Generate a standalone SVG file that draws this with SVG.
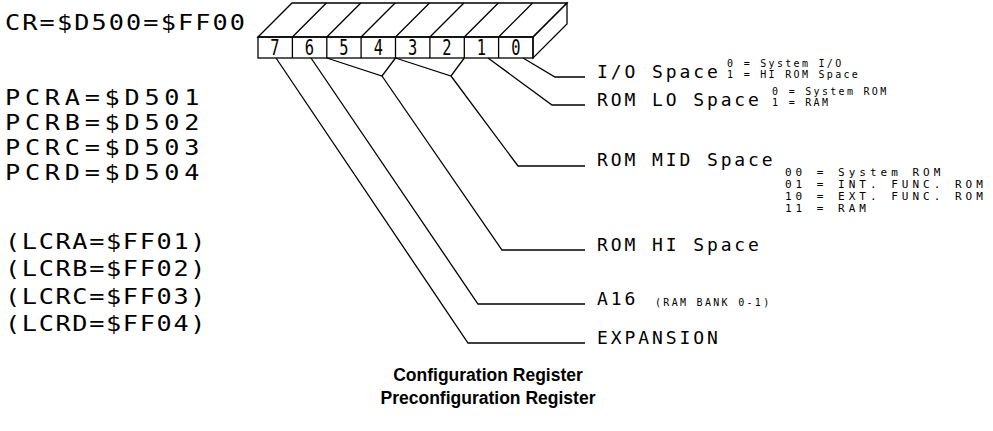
<svg xmlns="http://www.w3.org/2000/svg" width="993" height="431" viewBox="0 0 993 431">
<style>
.t{font-family:"DejaVu Sans Mono","Liberation Mono",monospace;fill:#000}
.big{font-size:21px}
.lbl{font-size:18px;letter-spacing:2.9px}
.sm{font-size:10px;letter-spacing:2.3px}
.blk{font-size:11px;letter-spacing:4px}
.dg{font-size:22px;text-anchor:middle}
.ttl{font-family:"Liberation Sans",Arial,sans-serif;font-weight:bold;font-size:17.5px;text-anchor:middle;fill:#000}
.ln{fill:none;stroke:#000;stroke-width:1.3;stroke-linejoin:miter}
</style>
<rect width="993" height="431" fill="#fff"/>
<g id="addresses">
<text class="t big" transform="translate(5,30) scale(1.2,1)" textLength="200" lengthAdjust="spacing">CR=$D500=$FF00</text>
<text class="t big" transform="translate(5,105) scale(1.2,1)" textLength="162" lengthAdjust="spacing">PCRA=$D501</text>
<text class="t big" transform="translate(5,130) scale(1.2,1)" textLength="162" lengthAdjust="spacing">PCRB=$D502</text>
<text class="t big" transform="translate(5,155) scale(1.2,1)" textLength="162" lengthAdjust="spacing">PCRC=$D503</text>
<text class="t big" transform="translate(5,180) scale(1.2,1)" textLength="162" lengthAdjust="spacing">PCRD=$D504</text>
<text class="t big" transform="translate(5,249) scale(1.2,1)" textLength="167" lengthAdjust="spacing">(LCRA=$FF01)</text>
<text class="t big" transform="translate(5,276) scale(1.2,1)" textLength="167" lengthAdjust="spacing">(LCRB=$FF02)</text>
<text class="t big" transform="translate(5,304) scale(1.2,1)" textLength="167" lengthAdjust="spacing">(LCRC=$FF03)</text>
<text class="t big" transform="translate(5,331) scale(1.2,1)" textLength="167" lengthAdjust="spacing">(LCRD=$FF04)</text>
</g>
<g id="register">
<polygon class="ln" points="258,37 292,3 567,3 533,37"/>
<polygon class="ln" points="533,37 567,3 567,24 533,58"/>
<rect class="ln" x="258" y="37" width="275" height="21"/>
<path class="ln" d="M292.4,37V58M326.8,37V58M361.1,37V58M395.5,37V58M429.9,37V58M464.3,37V58M498.6,37V58M292.4,37L326.4,3M326.8,37L360.8,3M361.1,37L395.1,3M395.5,37L429.5,3M429.9,37L463.9,3M464.3,37L498.3,3M498.6,37L532.6,3"/>
<g class="t dg">
<text transform="translate(275,55) scale(0.7,1)">7</text>
<text transform="translate(309.5,55) scale(0.7,1)">6</text>
<text transform="translate(344,55) scale(0.7,1)">5</text>
<text transform="translate(378.3,55) scale(0.7,1)">4</text>
<text transform="translate(412.7,55) scale(0.7,1)">3</text>
<text transform="translate(447,55) scale(0.7,1)">2</text>
<text transform="translate(481.5,55) scale(0.7,1)">1</text>
<text transform="translate(516,55) scale(0.7,1)">0</text>
</g>
</g>
<g id="connectors">
<polyline class="ln" points="276,58 468,343 585,343"/>
<polyline class="ln" points="311,58 478,304 585,304"/>
<polyline class="ln" points="326.8,58 382,76 395.5,58"/>
<polyline class="ln" points="382,76 502,250 585,250"/>
<polyline class="ln" points="395.5,58 451,76 464.3,58"/>
<polyline class="ln" points="451,76 518,166 585,166"/>
<polyline class="ln" points="488,58 552,105 585,105"/>
<polyline class="ln" points="523,58 555,77 585,77"/>
</g>
<g id="io-space">
<text class="t lbl" x="597" y="78">I/O Space</text>
<text class="t sm" x="727" y="67">0 = System I/O</text>
<text class="t sm" x="727" y="78">1 = HI ROM Space</text>
</g>
<g id="rom-lo">
<text class="t lbl" x="597" y="106">ROM LO Space</text>
<text class="t sm" x="772" y="95">0 = System ROM</text>
<text class="t sm" x="772" y="106">1 = RAM</text>
</g>
<g id="rom-mid">
<text class="t lbl" x="597" y="166">ROM MID Space</text>
<text class="t blk" x="785" y="176">00 = System ROM</text>
<text class="t blk" x="785" y="188">01 = INT. FUNC. ROM</text>
<text class="t blk" x="785" y="200">10 = EXT. FUNC. ROM</text>
<text class="t blk" x="785" y="212">11 = RAM</text>
</g>
<g id="rom-hi">
<text class="t lbl" x="597" y="251">ROM HI Space</text>
</g>
<g id="a16">
<text class="t lbl" x="597" y="305">A16</text>
<text class="t sm" x="655" y="306">(RAM BANK 0-1)</text>
</g>
<g id="expansion">
<text class="t lbl" x="597" y="344">EXPANSION</text>
</g>
<g id="title">
<text class="ttl" x="488" y="381">Configuration Register</text>
<text class="ttl" x="488" y="404">Preconfiguration Register</text>
</g>
</svg>
